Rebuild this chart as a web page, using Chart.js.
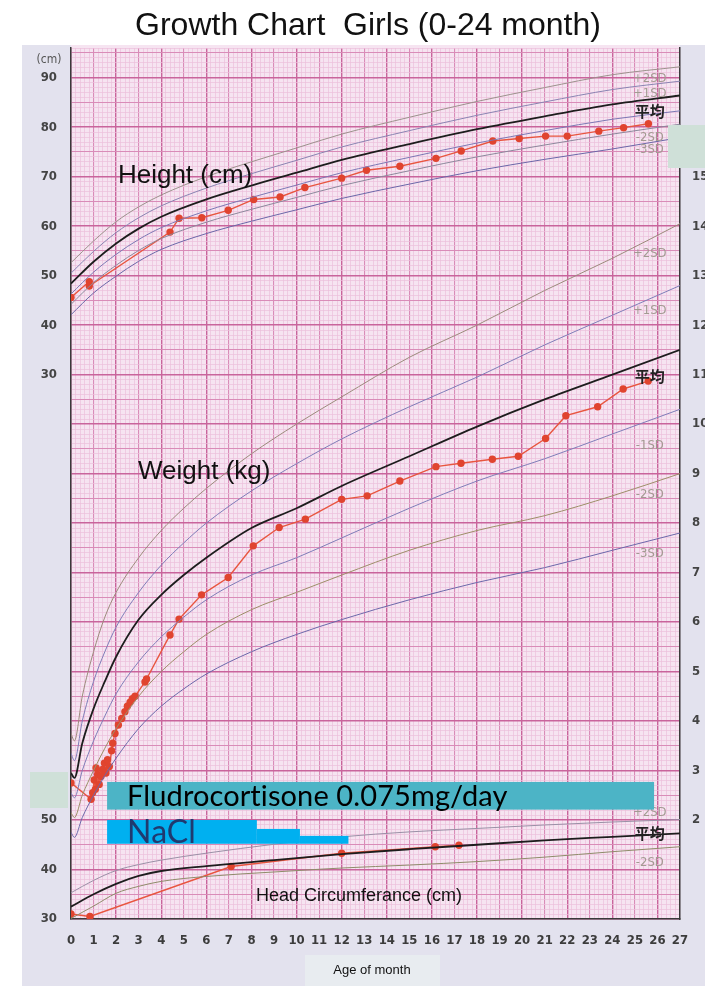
<!DOCTYPE html>
<html>
<head>
<meta charset="utf-8">
<title>Growth Chart Girls</title>
<script src="https://cdn.jsdelivr.net/npm/chart.js@4.4.1/dist/chart.umd.min.js"></script>
<style>
  html, body { margin: 0; padding: 0; background: #fff; }
  #wrap { width: 705px; height: 986px; }
</style>
</head>
<body>
<div id="wrap"><canvas id="growthChart" width="705" height="986"></canvas></div>
<script>
// reference curves - height (cm)
var heightMonths = [0, 1, 2, 3, 4, 6, 8, 10, 12, 15, 18, 21, 24, 27];
var heightP2   = [52.6, 57.0, 60.9, 63.9, 66.3, 70.0, 73.0, 75.8, 78.6, 82.0, 85.2, 88.0, 90.6, 92.2];
var heightP1   = [50.5, 54.9, 58.7, 61.7, 64.1, 67.7, 70.6, 73.3, 76.0, 79.3, 82.4, 85.1, 87.6, 89.3];
var heightMean = [48.4, 52.8, 56.5, 59.5, 61.9, 65.4, 68.2, 70.8, 73.4, 76.6, 79.6, 82.2, 84.6, 86.4];
var heightM1   = [46.3, 50.7, 54.3, 57.3, 59.7, 63.1, 65.8, 68.3, 70.8, 73.9, 76.8, 79.3, 81.6, 83.3];
var heightM2   = [44.2, 48.6, 52.1, 55.1, 57.5, 60.8, 63.4, 65.8, 68.2, 71.2, 74.0, 76.4, 78.6, 80.6];
var heightM3   = [42.1, 46.5, 49.9, 52.9, 55.3, 58.5, 61.0, 63.3, 65.6, 68.5, 71.2, 73.5, 75.6, 77.9];

// reference curves - weight (kg)
var weightMonths = [0, 0.15, 0.5, 1, 1.5, 2, 3, 4, 5, 6, 8, 10, 12, 15, 18, 21, 24, 27];
var weightP2   = [3.75, 3.6, 4.5, 5.4, 6.1, 6.6, 7.3, 7.85, 8.3, 8.7, 9.4, 10.0, 10.55, 11.35, 12.0, 12.7, 13.35, 14.05];
var weightP1   = [3.35, 3.2, 4.0, 4.8, 5.4, 5.9, 6.6, 7.15, 7.6, 8.0, 8.65, 9.2, 9.7, 10.35, 10.95, 11.6, 12.2, 12.8];
var weightMean = [2.95, 2.85, 3.55, 4.25, 4.8, 5.3, 6.05, 6.55, 6.95, 7.3, 7.9, 8.3, 8.75, 9.35, 9.95, 10.5, 11.0, 11.5];
var weightM1   = [2.55, 2.45, 3.0, 3.6, 4.1, 4.55, 5.2, 5.7, 6.1, 6.45, 6.95, 7.3, 7.7, 8.3, 8.85, 9.3, 9.8, 10.3];
var weightM2   = [2.15, 2.05, 2.5, 3.0, 3.45, 3.85, 4.5, 5.0, 5.4, 5.75, 6.25, 6.6, 6.95, 7.45, 7.85, 8.15, 8.55, 9.0];
var weightM3   = [1.75, 1.65, 2.05, 2.5, 2.9, 3.25, 3.85, 4.3, 4.65, 4.95, 5.4, 5.75, 6.05, 6.45, 6.8, 7.1, 7.45, 7.8];

// reference curves - head circumference (cm)
var headMonths = [0, 1, 2, 3, 4, 6, 9, 12, 15, 18, 21, 24, 27];
var headP2   = [35.3, 37.8, 39.8, 41.0, 41.9, 43.3, 45.1, 46.6, 47.6, 48.3, 49.0, 49.6, 50.1];
var headMean = [32.5, 35.0, 37.1, 38.7, 39.7, 40.7, 41.9, 43.1, 44.1, 45.0, 45.9, 46.6, 47.3];
var headM2   = [30.1, 32.6, 35.2, 36.6, 37.6, 38.6, 39.5, 40.3, 40.9, 41.6, 42.5, 43.6, 44.6];

// patient measurements
var patientHeightAge = [0, 0.81, 0.81, 4.39, 4.79, 5.8, 6.97, 8.1, 9.27, 10.37, 12.0, 13.1, 14.58, 16.18, 17.3, 18.7, 19.87, 21.04, 22.0, 23.4, 24.5, 25.6];
var patientHeight    = [45.6, 48.8, 47.9, 58.8, 61.6, 61.7, 63.2, 65.4, 65.9, 67.8, 69.7, 71.3, 72.1, 73.7, 75.2, 77.2, 77.7, 78.2, 78.2, 79.2, 79.9, 80.7];

var patientWeightAge = [0, 0.89, 0.96, 1.03, 1.08, 1.11, 1.18, 1.25, 1.33, 1.4, 1.48, 1.55, 1.62, 1.7, 1.8, 1.85, 1.95, 2.1, 2.25, 2.39, 2.5, 2.62, 2.72, 2.84, 3.28, 3.35, 4.39, 4.79, 5.79, 6.97, 8.08, 9.23, 10.39, 12.0, 13.13, 14.58, 16.18, 17.29, 18.68, 19.83, 21.04, 21.94, 23.35, 24.48, 25.59];
var patientWeight    = [2.75, 2.42, 2.55, 2.81, 2.62, 3.05, 2.92, 2.72, 2.88, 3.02, 3.15, 2.95, 3.22, 3.08, 3.4, 3.55, 3.75, 3.92, 4.05, 4.19, 4.3, 4.38, 4.45, 4.5, 4.79, 4.85, 5.74, 6.06, 6.55, 6.9, 7.54, 7.91, 8.08, 8.48, 8.55, 8.85, 9.14, 9.21, 9.29, 9.35, 9.71, 10.17, 10.35, 10.71, 10.87];

var patientHeadAge = [0, 0.84, 7.1, 12.0, 16.15, 17.2];
var patientHead    = [31.0, 30.5, 40.6, 43.3, 44.6, 44.9];

// treatment periods (months)
var fludroPeriod = [1.6, 25.85];
var naclPeriods  = [[1.6, 8.24, 2.0], [8.24, 10.15, 1.82], [10.15, 12.3, 1.68]];

// curve end labels: text, axis, month, value
var curveLabels = [
  ['+2SD', 'yH', 25.66, 89.8], ['+1SD', 'yH', 25.66, 86.8], ['平均', 'yH', 25.66, 83.3],
  ['-2SD', 'yH', 25.66, 77.9], ['-3SD', 'yH', 25.66, 75.4],
  ['+2SD', 'y', 25.66, 13.45], ['+1SD', 'y', 25.66, 12.3], ['平均', 'y', 25.66, 10.97],
  ['-1SD', 'y', 25.66, 9.56], ['-2SD', 'y', 25.66, 8.57], ['-3SD', 'y', 25.66, 7.39],
  ['+2SD', 'yC', 25.66, 51.4], ['平均', 'yC', 25.66, 47.3], ['-2SD', 'yC', 25.66, 41.3]
];

var narrow = "'Liberation Sans Narrow', 'DejaVu Sans Condensed', sans-serif";

function pts(xs, ys) {
  return xs.map(function(x, i) { return { x: x, y: ys[i] }; });
}

function isWhole(v) {
  return Math.abs(v - Math.round(v)) < 1e-6;
}

function refLine(xs, ys, axis, color, width) {
  return {
    data: pts(xs, ys),
    yAxisID: axis,
    borderColor: color,
    borderWidth: width || 1,
    pointRadius: 0,
    fill: false,
    cubicInterpolationMode: 'monotone'
  };
}

function patientLine(xs, ys, axis) {
  return {
    data: pts(xs, ys),
    yAxisID: axis,
    borderColor: '#e8553f',
    backgroundColor: '#e0442f',
    borderWidth: 1.4,
    pointRadius: 3.7,
    pointBorderWidth: 0,
    tension: 0
  };
}

var paper = {
  id: 'paper',
  beforeDraw: function(chart) {
    var c = chart.ctx, a = chart.chartArea;
    c.save();
    c.fillStyle = '#ffffff';
    c.fillRect(0, 0, chart.width, chart.height);
    c.fillStyle = '#e3e2ee';
    c.fillRect(22, 45, chart.width - 22, chart.height - 45);
    c.fillStyle = '#f6e4f1';
    c.fillRect(a.left, a.top - 3, a.right - a.left, a.bottom - a.top + 3);
    c.restore();
  },
  afterDatasetsDraw: function(chart) {
    var c = chart.ctx, sx = chart.scales.x, sy = chart.scales.y;
    c.save();

    // curve labels
    curveLabels.forEach(function(l) {
      var x = sx.getPixelForValue(l[2]);
      var y = chart.scales[l[1]].getPixelForValue(l[3]);
      if (l[0] === '平均') {
        c.font = "bold 15px 'Noto Sans CJK JP', sans-serif";
        c.fillStyle = '#222';
      } else {
        c.font = '13px ' + narrow;
        c.fillStyle = '#a39a92';
      }
      c.textAlign = 'center';
      c.textBaseline = 'middle';
      c.fillText(l[0], x, y);
    });

    // section titles
    c.fillStyle = '#111';
    c.textAlign = 'left';
    c.textBaseline = 'middle';
    c.font = "26px 'Liberation Sans', Arial, sans-serif";
    c.fillText('Height (cm)', sx.getPixelForValue(2.08), chart.scales.yH.getPixelForValue(70.1));
    c.fillText('Weight (kg)', sx.getPixelForValue(2.97), sy.getPixelForValue(9.03));
    c.font = "18px 'Liberation Sans', Arial, sans-serif";
    c.fillText('Head Circumferance (cm)', sx.getPixelForValue(8.2), chart.scales.yC.getPixelForValue(34.6));

    // treatment bars
    var fx0 = sx.getPixelForValue(fludroPeriod[0]), fx1 = sx.getPixelForValue(fludroPeriod[1]);
    var fy0 = sy.getPixelForValue(2.77), fy1 = sy.getPixelForValue(2.21);
    c.fillStyle = '#4cb4c6';
    c.fillRect(fx0, fy0, fx1 - fx0, fy1 - fy0);
    var nb = sy.getPixelForValue(1.52);
    c.fillStyle = '#00b0f0';
    naclPeriods.forEach(function(p) {
      var x0 = sx.getPixelForValue(p[0]), x1 = sx.getPixelForValue(p[1]);
      var y0 = sy.getPixelForValue(p[2]);
      c.fillRect(x0, y0, x1 - x0, nb - y0);
    });
    // no "ti" ligature
    c.textRendering = 'optimizeSpeed';
    c.letterSpacing = '0.1px';
    c.font = "29px Lato, 'Open Sans', sans-serif";
    c.fillStyle = '#000';
    c.fillText('Fludrocortisone 0.075mg/day', fx0 + 20, (fy0 + fy1) / 2 + 1);
    c.font = "32px Lato, 'Open Sans', sans-serif";
    c.fillStyle = '#1f3a70';
    c.fillText('NaCl', fx0 + 20, (sy.getPixelForValue(2.0) + nb) / 2 + 1);
    c.restore();
  },
  afterDraw: function(chart) {
    var c = chart.ctx;
    c.save();
    // cover boxes
    c.fillStyle = '#cfe0d8';
    c.fillRect(30, 772, 38, 36);
    c.fillRect(668, 125, 37, 43);
    // title
    c.fillStyle = '#111';
    c.textAlign = 'center';
    c.textBaseline = 'middle';
    c.font = "32px 'Liberation Sans', Arial, sans-serif";
    c.fillText('Growth Chart  Girls (0-24 month)', 368, 26);
    // unit
    c.font = '12px ' + narrow;
    c.fillStyle = '#555';
    c.fillText('(cm)', 49, 60);
    // x axis caption
    c.fillStyle = '#e8ecf0';
    c.fillRect(305, 955, 135, 31);
    c.fillStyle = '#111';
    c.font = "13px 'Liberation Sans', Arial, sans-serif";
    c.fillText('Age of month', 372, 970);
    c.restore();
  }
};

var tickFont = { family: narrow, size: 13, weight: 'bold' };

new Chart('growthChart', {
  type: 'line',
  data: {
    datasets: [
      refLine(heightMonths, heightP2, 'yH', '#9c918c'),
      refLine(heightMonths, heightP1, 'yH', '#8a84b2'),
      refLine(heightMonths, heightMean, 'yH', '#1d1d1d', 1.8),
      refLine(heightMonths, heightM1, 'yH', '#7c78b4'),
      refLine(heightMonths, heightM2, 'yH', '#8c889c'),
      refLine(heightMonths, heightM3, 'yH', '#6b67a8'),
      refLine(weightMonths, weightP2, 'y', '#9c8b7c'),
      refLine(weightMonths, weightP1, 'y', '#7f7db8'),
      refLine(weightMonths, weightMean, 'y', '#1d1d1d', 1.8),
      refLine(weightMonths, weightM1, 'y', '#7f7db8'),
      refLine(weightMonths, weightM2, 'y', '#9d8e68'),
      refLine(weightMonths, weightM3, 'y', '#6c68aa'),
      refLine(headMonths, headP2, 'yC', '#9a90a6'),
      refLine(headMonths, headMean, 'yC', '#1d1d1d', 1.8),
      refLine(headMonths, headM2, 'yC', '#8f8c6a'),
      patientLine(patientHeightAge, patientHeight, 'yH'),
      patientLine(patientWeightAge, patientWeight, 'y'),
      patientLine(patientHeadAge, patientHead, 'yC')
    ]
  },
  options: {
    responsive: false,
    animation: false,
    events: [],
    layout: { padding: { left: 0, right: 0, top: 48, bottom: 37 } },
    plugins: { legend: { display: false }, tooltip: { enabled: false }, title: { display: false } },
    scales: {
      x: {
        type: 'linear', min: 0, max: 27, position: 'bottom',
        ticks: {
          stepSize: 0.2, autoSkip: false, maxRotation: 0, padding: 14,
          color: '#3c3c3c', font: tickFont,
          callback: function(v) { return isWhole(v) ? String(Math.round(v)) : ''; }
        },
        grid: {
          drawTicks: false,
          color: function(ctx) {
            var v = ctx.tick.value;
            if (!isWhole(v)) return '#ecc0db';
            return Math.round(v) % 2 === 0 ? '#c9649c' : '#d98cb8';
          },
          lineWidth: function(ctx) {
            var v = ctx.tick.value;
            if (!isWhole(v)) return 0.7;
            return Math.round(v) % 2 === 0 ? 1.4 : 1.1;
          }
        },
        border: { color: '#3a3a3a', width: 1.5 },
        afterFit: function(s) { s.height = 30; }
      },
      y: {
        type: 'linear', min: 0, max: 17.6, position: 'left',
        ticks: {
          stepSize: 0.1, autoSkip: false, padding: 14,
          color: '#444', font: tickFont,
          callback: function(v) {
            var r = Math.round(v * 10) / 10;
            if (!isWhole(r)) return '';
            r = Math.round(r);
            if (r >= 11 && r <= 17) return String((r - 8) * 10);
            if (r <= 2) return String((r + 3) * 10);
            return '';
          }
        },
        grid: {
          drawTicks: false,
          color: function(ctx) {
            var v = Math.round(ctx.tick.value * 10);
            if (v % 10 === 0) return '#c9649c';
            if (v % 5 === 0) return '#d98cb8';
            return '#ecc0db';
          },
          lineWidth: function(ctx) {
            var v = Math.round(ctx.tick.value * 10);
            if (v % 10 === 0) return 1.4;
            if (v % 5 === 0) return 1.1;
            return 0.7;
          }
        },
        border: { color: '#3a3a3a', width: 1.5 },
        afterFit: function(s) { s.width = 71; }
      },
      yR: {
        type: 'linear', min: 0, max: 17.6, position: 'right',
        ticks: {
          stepSize: 1, padding: 12, color: '#444', font: tickFont,
          callback: function(v) { return (v >= 2 && v <= 15) ? String(v) : ''; }
        },
        grid: { display: false, drawTicks: false },
        border: { color: '#3a3a3a', width: 1.5 },
        afterFit: function(s) { s.width = 25; }
      },
      yH: { type: 'linear', display: false, min: -80, max: 96 },
      yC: { type: 'linear', display: false, min: 30, max: 206 }
    }
  },
  plugins: [paper]
});
</script>
</body>
</html>
